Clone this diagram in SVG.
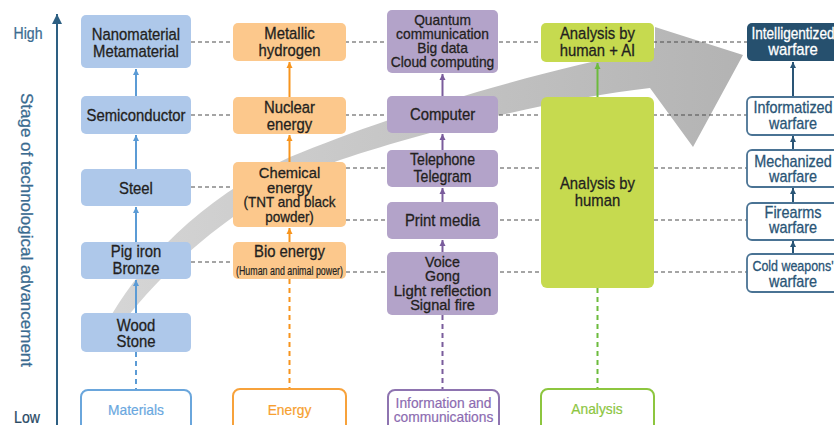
<svg xmlns="http://www.w3.org/2000/svg" width="834" height="425" viewBox="0 0 834 425">
<defs>
<linearGradient id="band" gradientUnits="userSpaceOnUse" x1="100" y1="0" x2="745" y2="0">
<stop offset="0" stop-color="#d6d6d6"/>
<stop offset="1" stop-color="#b3b3b3"/>
</linearGradient>
<marker id="mB" markerUnits="userSpaceOnUse" markerWidth="7" markerHeight="7" refX="6" refY="3.5" orient="auto"><path d="M0,0.5 L6,3.5 L0,6.5 z" fill="#5b9bd5"/></marker>
<marker id="mO" markerUnits="userSpaceOnUse" markerWidth="7" markerHeight="7" refX="6" refY="3.5" orient="auto"><path d="M0,0.5 L6,3.5 L0,6.5 z" fill="#f7941d"/></marker>
<marker id="mP" markerUnits="userSpaceOnUse" markerWidth="7" markerHeight="7" refX="6" refY="3.5" orient="auto"><path d="M0,0.5 L6,3.5 L0,6.5 z" fill="#7a5c9c"/></marker>
<marker id="mG" markerUnits="userSpaceOnUse" markerWidth="7" markerHeight="7" refX="6" refY="3.5" orient="auto"><path d="M0,0.5 L6,3.5 L0,6.5 z" fill="#6cbb3c"/></marker>
<marker id="mW" markerUnits="userSpaceOnUse" markerWidth="7" markerHeight="7" refX="6" refY="3.5" orient="auto"><path d="M0,0.5 L6,3.5 L0,6.5 z" fill="#2a5576"/></marker>
<marker id="mAx" markerUnits="userSpaceOnUse" markerWidth="12" markerHeight="12" refX="10" refY="6" orient="auto"><path d="M0,1 L10,6 L0,11 z" fill="#2d5f82"/></marker>
</defs>
<style>
.t{font-family:"Liberation Sans",Arial,sans-serif;font-size:16.5px;fill:#231f20;stroke:#231f20;stroke-width:.3;text-anchor:middle}
.s{font-size:15px}
.xs{font-size:12px;stroke-width:.2}
.w{fill:#2a5576;stroke:#2a5576}
.wh{fill:#ffffff;stroke:#ffffff}
.mat{fill:#aec8ea}
.ene{fill:#fcc88c}
.inf{fill:#b3a3c9}
.ana{fill:#c6da4f}
.war{fill:#ffffff;stroke:#4a7394;stroke-width:1.8}
.lab{fill:#ffffff;stroke-width:2}
.hd{stroke:#4d4d4d;stroke-width:1.2;stroke-dasharray:4 3;fill:none}
.cb{stroke:#5b9bd5;stroke-width:2;fill:none}
.co{stroke:#f7941d;stroke-width:2;fill:none}
.cp{stroke:#7a5c9c;stroke-width:2;fill:none}
.cg{stroke:#6cbb3c;stroke-width:2;fill:none}
.cw{stroke:#2a5576;stroke-width:2;fill:none}
.dv{stroke-dasharray:5 4}
.ax{font-family:"Liberation Sans",Arial,sans-serif;fill:#3a6b90;stroke:#3a6b90;stroke-width:.25}
</style>
<rect width="834" height="425" fill="#ffffff"/>

<g id="axis">
<line x1="57" y1="425" x2="57" y2="14" stroke="#2d5f82" stroke-width="2" marker-end="url(#mAx)"/>
<text class="ax" font-size="16" text-anchor="middle" transform="translate(28,39) scale(.88,1)">High</text>
<text class="ax" font-size="16" text-anchor="middle" style="fill:#2a4a66;stroke:#2a4a66" transform="translate(27,423) scale(.88,1)">Low</text>
<text class="ax" font-size="17" text-anchor="middle" transform="translate(21,230) rotate(90)">Stage of technological advancement</text>
</g>

<g id="trend-arrow">
<path d="M100,335 C140,260 200,200 290,157 C380,120 500,80 655,48 L655,27 L743,55 L693,147 L650,88 C560,98 430,130 340,160 C260,188 180,250 125,320 Z" fill="url(#band)"/>
</g>

<g id="connectors">
<line class="hd" x1="191" y1="42" x2="747" y2="42"/>
<line class="hd" x1="191" y1="115" x2="747" y2="115"/>
<line class="hd" x1="191" y1="187" x2="233" y2="187"/>
<line class="hd" x1="346" y1="168" x2="747" y2="168"/>
<line class="hd" x1="346" y1="220" x2="747" y2="220"/>
<line class="hd" x1="191" y1="262" x2="233" y2="262"/>
<line class="hd" x1="346" y1="272" x2="747" y2="272"/>

<line class="cb" x1="136" y1="96" x2="136" y2="69" marker-end="url(#mB)"/>
<line class="cb" x1="136" y1="169" x2="136" y2="135" marker-end="url(#mB)"/>
<line class="cb" x1="136" y1="242" x2="136" y2="207" marker-end="url(#mB)"/>
<line class="cb" x1="136" y1="313" x2="136" y2="280" marker-end="url(#mB)"/>
<line class="cb dv" x1="136" y1="352" x2="136" y2="389"/>

<line class="co" x1="289.5" y1="97" x2="289.5" y2="62" marker-end="url(#mO)"/>
<line class="co" x1="289.5" y1="162" x2="289.5" y2="135" marker-end="url(#mO)"/>
<line class="co" x1="289.5" y1="242" x2="289.5" y2="228" marker-end="url(#mO)"/>
<line class="co dv" x1="289.5" y1="279" x2="289.5" y2="389"/>

<line class="cp" x1="442.5" y1="96" x2="442.5" y2="74" marker-end="url(#mP)"/>
<line class="cp" x1="442.5" y1="150" x2="442.5" y2="134" marker-end="url(#mP)"/>
<line class="cp" x1="442.5" y1="202" x2="442.5" y2="188" marker-end="url(#mP)"/>
<line class="cp" x1="442.5" y1="252" x2="442.5" y2="240" marker-end="url(#mP)"/>
<line class="cp dv" x1="442.5" y1="315" x2="442.5" y2="390"/>

<line class="cg" x1="597.5" y1="97" x2="597.5" y2="63" marker-end="url(#mG)"/>
<line class="cg dv" x1="597.5" y1="288" x2="597.5" y2="389"/>

<line class="cw" x1="793" y1="97" x2="793" y2="62" marker-end="url(#mW)"/>
<line class="cw" x1="793" y1="150" x2="793" y2="136" marker-end="url(#mW)"/>
<line class="cw" x1="793" y1="203" x2="793" y2="188" marker-end="url(#mW)"/>
<line class="cw" x1="793" y1="254" x2="793" y2="241" marker-end="url(#mW)"/>
</g>

<!-- Materials -->
<g id="nanomaterial"><rect class="mat" x="81" y="15" width="110" height="53" rx="5"/>
<text class="t" transform="translate(136,39.5) scale(.9,1)">Nanomaterial</text>
<text class="t" transform="translate(136,56.5) scale(.9,1)">Metamaterial</text></g>
<g id="semiconductor"><rect class="mat" x="81" y="96" width="110" height="38" rx="5"/>
<text class="t" transform="translate(136,120.5) scale(.9,1)">Semiconductor</text></g>
<g id="steel"><rect class="mat" x="81" y="169" width="110" height="37" rx="5"/>
<text class="t" transform="translate(136,193.5) scale(.9,1)">Steel</text></g>
<g id="pig-iron"><rect class="mat" x="81" y="242" width="110" height="37" rx="5"/>
<text class="t" transform="translate(136,257) scale(.9,1)">Pig iron</text>
<text class="t" transform="translate(136,274) scale(.9,1)">Bronze</text></g>
<g id="wood-stone"><rect class="mat" x="81" y="313" width="110" height="39" rx="5"/>
<text class="t" transform="translate(136,330.5) scale(.9,1)">Wood</text>
<text class="t" transform="translate(136,347) scale(.9,1)">Stone</text></g>
<g id="materials"><rect class="lab" stroke="#6aa6dc" x="81" y="390" width="110" height="50" rx="7"/>
<text class="t s" style="fill:#6aa8e0;stroke:#6aa8e0;stroke-width:.2" transform="translate(136,415) scale(.92,1)">Materials</text></g>

<!-- Energy -->
<g id="metallic-hydrogen"><rect class="ene" x="233" y="23" width="113" height="38" rx="5"/>
<text class="t" transform="translate(289.5,38.5) scale(.9,1)">Metallic</text>
<text class="t" transform="translate(289.5,55.5) scale(.9,1)">hydrogen</text></g>
<g id="nuclear-energy"><rect class="ene" x="233" y="97" width="113" height="37" rx="5"/>
<text class="t" transform="translate(289.5,113) scale(.9,1)">Nuclear</text>
<text class="t" transform="translate(289.5,129.5) scale(.9,1)">energy</text></g>
<g id="chemical-energy"><rect class="ene" x="233" y="162" width="113" height="65" rx="5"/>
<text class="t" style="font-size:15.5px" transform="translate(289.5,178) scale(.95,1)">Chemical</text>
<text class="t" style="font-size:15.5px" transform="translate(289.5,192.5) scale(.95,1)">energy</text>
<text class="t s" transform="translate(289.5,207) scale(.9,1)">(TNT and black</text>
<text class="t s" transform="translate(289.5,221.5) scale(.9,1)">powder)</text></g>
<g id="bio-energy"><rect class="ene" x="233" y="242" width="113" height="37" rx="5"/>
<text class="t" transform="translate(289.5,257) scale(.9,1)">Bio energy</text>
<text class="t xs" transform="translate(289.5,274.5) scale(.74,1)">(Human and animal power)</text></g>
<g id="energy"><rect class="lab" stroke="#f7a23b" x="233" y="389" width="113" height="50" rx="7"/>
<text class="t s" style="fill:#f7a030;stroke:#f7a030;stroke-width:.2" transform="translate(289.5,415) scale(.92,1)">Energy</text></g>

<!-- Information and communications -->
<g id="quantum"><rect class="inf" x="387" y="10" width="111" height="63" rx="5"/>
<text class="t s" transform="translate(442.5,24.5) scale(.92,1)">Quantum</text>
<text class="t s" transform="translate(442.5,38.8) scale(.92,1)">communication</text>
<text class="t s" transform="translate(442.5,53) scale(.92,1)">Big data</text>
<text class="t s" transform="translate(442.5,67.2) scale(.92,1)">Cloud computing</text></g>
<g id="computer"><rect class="inf" x="387" y="96" width="111" height="37" rx="5"/>
<text class="t" transform="translate(442.5,120) scale(.9,1)">Computer</text></g>
<g id="telephone"><rect class="inf" x="387" y="150" width="111" height="37" rx="5"/>
<text class="t" style="font-size:16px" transform="translate(442.5,165) scale(.88,1)">Telephone</text>
<text class="t" style="font-size:16px" transform="translate(442.5,181.5) scale(.88,1)">Telegram</text></g>
<g id="print-media"><rect class="inf" x="387" y="202" width="111" height="37" rx="5"/>
<text class="t" transform="translate(442.5,226) scale(.9,1)">Print media</text></g>
<g id="voice"><rect class="inf" x="387" y="252" width="111" height="63" rx="5"/>
<text class="t s" transform="translate(442.5,267) scale(.95,1)">Voice</text>
<text class="t s" transform="translate(442.5,281.3) scale(.95,1)">Gong</text>
<text class="t s" transform="translate(442.5,295.6) scale(1,1)">Light reflection</text>
<text class="t s" transform="translate(442.5,310) scale(.97,1)">Signal fire</text></g>
<g id="information"><rect class="lab" stroke="#8e74b0" x="388" y="390" width="111" height="50" rx="7"/>
<text class="t s" style="fill:#8c6bb1;stroke:#8c6bb1;stroke-width:.2" transform="translate(443.5,408) scale(.92,1)">Information and</text>
<text class="t s" style="fill:#8c6bb1;stroke:#8c6bb1;stroke-width:.2" transform="translate(443.5,422) scale(.92,1)">communications</text></g>

<!-- Analysis -->
<g id="analysis-ai"><rect class="ana" x="541" y="23" width="113" height="39" rx="5"/>
<text class="t" transform="translate(597.5,39) scale(.9,1)">Analysis by</text>
<text class="t" transform="translate(597.5,55.5) scale(.9,1)">human + AI</text></g>
<g id="analysis-human"><rect class="ana" x="541" y="97" width="113" height="191" rx="6"/>
<text class="t" transform="translate(597.5,189) scale(.9,1)">Analysis by</text>
<text class="t" transform="translate(597.5,206) scale(.9,1)">human</text></g>
<g id="analysis"><rect class="lab" stroke="#8dc63f" x="541" y="389" width="113" height="50" rx="7"/>
<text class="t s" style="fill:#8dc63f;stroke:#8dc63f;stroke-width:.2" transform="translate(597,414) scale(.92,1)">Analysis</text></g>

<!-- Warfare -->
<g id="intelligentized"><rect x="747" y="23" width="100" height="38" rx="5" fill="#26506e"/>
<text class="t wh" style="font-size:16px" transform="translate(793,38.5) scale(.85,1)">Intelligentized</text>
<text class="t wh" transform="translate(793,55) scale(.9,1)">warfare</text></g>
<g id="informatized"><rect class="war" x="747" y="97" width="100" height="38" rx="5"/>
<text class="t w" style="font-size:16px" transform="translate(793,113.3) scale(.9,1)">Informatized</text>
<text class="t w" style="font-size:16px" transform="translate(793,128.5) scale(.9,1)">warfare</text></g>
<g id="mechanized"><rect class="war" x="747" y="150" width="100" height="37" rx="5"/>
<text class="t w" style="font-size:16px" transform="translate(793,166.5) scale(.9,1)">Mechanized</text>
<text class="t w" style="font-size:16px" transform="translate(793,181.5) scale(.9,1)">warfare</text></g>
<g id="firearms"><rect class="war" x="747" y="203" width="100" height="37" rx="5"/>
<text class="t w" style="font-size:16px" transform="translate(793,218.3) scale(.9,1)">Firearms</text>
<text class="t w" style="font-size:16px" transform="translate(793,233.3) scale(.9,1)">warfare</text></g>
<g id="cold-weapons"><rect class="war" x="747" y="254" width="100" height="38" rx="5"/>
<text class="t w" style="font-size:15px" transform="translate(793,270.5) scale(.83,1)">Cold weapons'</text>
<text class="t w" style="font-size:16px" transform="translate(793,286.5) scale(.9,1)">warfare</text></g>
</svg>
